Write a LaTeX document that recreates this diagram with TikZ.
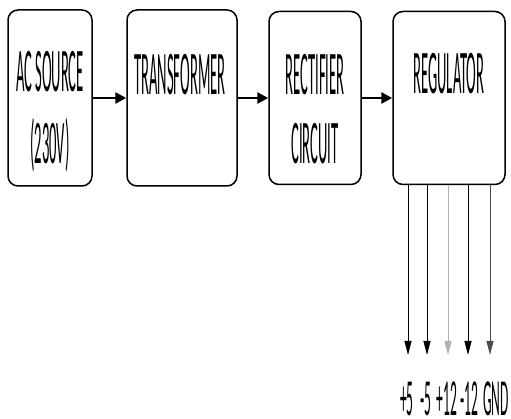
\documentclass[tikz,border=0pt]{standalone}
\usepackage{fontspec}
\setmainfont{Carlito}
\newcommand{\ctx}[1]{\scalebox{0.235}[1]{\fontsize{62}{62}\selectfont #1}}
\newcommand{\clb}[1]{\scalebox{0.26}[1]{\fontsize{52}{52}\selectfont #1}}
\usetikzlibrary{arrows.meta}
\begin{document}
\begin{tikzpicture}[x=1pt,y=-1pt,
  blk/.style={draw,line width=1.5pt,rounded corners=10pt,inner sep=0pt},
  txt/.style={inner sep=0pt},
  arr/.style={line width=2.6pt,-{Triangle[length=11pt,width=11pt]}},
  outarr/.style={line width=1pt,-{Triangle[length=14pt,width=7pt]}}]
\useasboundingbox (0,0) rectangle (511,419);
\node[blk,minimum width=84pt,minimum height=176pt] (ac) at (50,98) {};
\node[blk,minimum width=110pt,minimum height=176pt] (tr) at (182,98) {};
\node[blk,minimum width=92pt,minimum height=173pt] (rc) at (315,98) {};
\node[blk,minimum width=112pt,minimum height=173pt] (rg) at (449,98) {};
\node[txt] (t1) at (50,72) {\ctx{AC SOURCE}};
\node[txt] (t2) at (50,145) {\ctx{(230V)}};
\node[txt] (t3) at (180,75) {\ctx{TRANSFORMER}};
\node[txt] (t4) at (315,75) {\ctx{RECTIFIER}};
\node[txt] (t5) at (315,144) {\ctx{CIRCUIT}};
\node[txt] (t6) at (449,74) {\ctx{REGULATOR}};
\draw[arr] (ac.east) -- (tr.west);
\draw[arr] (tr.east) -- (rc.west);
\draw[arr] (rc.east) -- (rg.west);
\foreach \i/\x/\c in {1/408/black,2/427/black,3/448/gray!60,4/468/black,5/490/black!70}{
  \coordinate (o\i) at (\x,355);
  \draw[outarr,draw=\c,fill=black] (rg.south -| o\i) -- (o\i);
}
\node[txt] (l1) at (407,399) {\clb{+5}};
\node[txt] (l2) at (426,399) {\clb{-5}};
\node[txt] (l3) at (447,399) {\clb{+12}};
\node[txt] (l4) at (469,399) {\clb{-12}};
\node[txt] (l5) at (496,399) {\clb{GND}};
\end{tikzpicture}
\end{document}
